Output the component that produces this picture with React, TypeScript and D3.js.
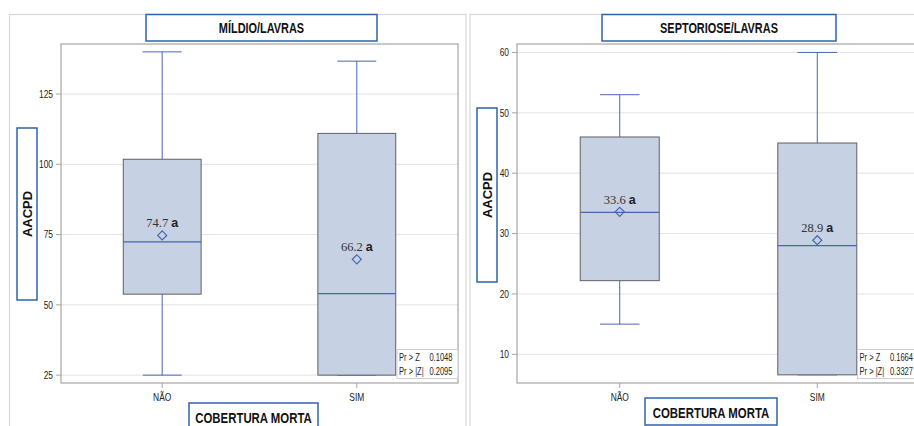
import React from "react";
import * as d3 from "d3";

const categories = ["NÃO", "SIM"];

const mildioMin = [25, 25];
const mildioQ1 = [53.8, 25];
const mildioMedian = [72.4, 54];
const mildioQ3 = [101.8, 111];
const mildioMax = [140, 136.7];
const mildioMean = [74.7, 66.2];
const mildioTicks = [25, 50, 75, 100, 125];
const mildioStats = ["0.1048", "0.2095"];

const septMin = [15, 6.6];
const septQ1 = [22.2, 6.6];
const septMedian = [33.5, 28];
const septQ3 = [46, 45];
const septMax = [53, 60];
const septMean = [33.6, 28.9];
const septTicks = [10, 20, 30, 40, 50, 60];
const septStats = ["0.1664", "0.3327"];

const statLabels = ["Pr > Z", "Pr > |Z|"];
const letters = ["a", "a"];

const SANS = "'Liberation Sans', Arial, sans-serif";
const SERIF = "'Liberation Serif', 'Times New Roman', serif";

const BOX_FILL = "#c6d1e3";
const BOX_STROKE = "#5f6066";
const BLUE = "#4766b2";
const TITLE_BLUE = "#2f64aa";
const GRID = "#e3e3e3";
const FRAME = "#a6a6a6";
const OUTER = "#d6d6d6";

type NTextProps = {
  x: number;
  y: number;
  size: number;
  anchor?: "start" | "middle" | "end";
  bold?: boolean;
  squeeze?: number;
  fill?: string;
  children: React.ReactNode;
};

function NText({ x, y, size, anchor = "start", bold = false, squeeze = 0.8, fill = "#222", children }: NTextProps) {
  return (
    <text
      transform={`translate(${x},${y}) scale(${squeeze},1)`}
      dy="0.35em"
      textAnchor={anchor}
      fontFamily={SANS}
      fontWeight={bold ? "bold" : "normal"}
      fontSize={size}
      fill={fill}
    >
      {children}
    </text>
  );
}

type PanelProps = {
  title: string;
  mins: number[];
  q1s: number[];
  medians: number[];
  q3s: number[];
  maxs: number[];
  means: number[];
  ticks: number[];
  stats: string[];
  domain: [number, number];
  plot: { x0: number; x1: number; y0: number; y1: number };
  outer: { x0: number; x1: number };
  titleBox: { x0: number; x1: number };
  yTitleBox: { x0: number; x1: number; y0: number; y1: number };
  xTitleBox: { x0: number; x1: number; y0: number; y1: number };
  inset: { x0: number; w: number };
};

function Panel(p: PanelProps) {
  const { plot } = p;
  const y = d3.scaleLinear().domain(p.domain).range([plot.y1, plot.y0]);
  const x = d3.scalePoint<string>().domain(categories).range([plot.x0, plot.x1]).padding(0.52);
  const step = x.step();
  const boxW = step * 0.4;
  const capW = boxW / 2;
  const clipId = "clip" + p.title.replace(/[^A-Z]/g, "");
  return (
    <g>
      <defs>
        <clipPath id={clipId}>
          <rect x={plot.x0} y={plot.y0} width={plot.x1 - plot.x0} height={plot.y1 - plot.y0} />
        </clipPath>
      </defs>
      <rect x={p.outer.x0} y={14.5} width={p.outer.x1 - p.outer.x0} height={430} fill="none" stroke={OUTER} strokeWidth={1.2} />
      <rect x={plot.x0} y={plot.y0} width={plot.x1 - plot.x0} height={plot.y1 - plot.y0} fill="#fff" stroke="none" />
      <g clipPath={`url(#${clipId})`}>
        {p.ticks.map((t) => (
          <line key={t} x1={plot.x0} x2={plot.x1} y1={y(t)} y2={y(t)} stroke={GRID} strokeWidth={1} />
        ))}
      </g>
      {p.ticks.map((t) => (
        <g key={"t" + t}>
          <line x1={plot.x0 - 5} x2={plot.x0} y1={y(t)} y2={y(t)} stroke={FRAME} />
          <NText x={plot.x0 - 8} y={y(t)} size={10.5} anchor="end" fill="#222">
            {t}
          </NText>
        </g>
      ))}
      {categories.map((c, i) => {
        const cx = x(c)!;
        return (
          <g key={c}>
            <line x1={cx} x2={cx} y1={y(p.maxs[i])} y2={y(p.q3s[i])} stroke={BLUE} strokeWidth={1} />
            <line x1={cx} x2={cx} y1={y(p.q1s[i])} y2={y(p.mins[i])} stroke={BLUE} strokeWidth={1} />
            <line x1={cx - capW / 2} x2={cx + capW / 2} y1={y(p.maxs[i])} y2={y(p.maxs[i])} stroke={BLUE} strokeWidth={1} />
            <line x1={cx - capW / 2} x2={cx + capW / 2} y1={y(p.mins[i])} y2={y(p.mins[i])} stroke={BLUE} strokeWidth={1} />
            <rect
              x={cx - boxW / 2}
              y={y(p.q3s[i])}
              width={boxW}
              height={y(p.q1s[i]) - y(p.q3s[i])}
              fill={BOX_FILL}
              stroke={BOX_STROKE}
              strokeWidth={1}
            />
            <line x1={cx - boxW / 2} x2={cx + boxW / 2} y1={y(p.medians[i])} y2={y(p.medians[i])} stroke={BLUE} strokeWidth={1.2} />
            <path
              d={`M${cx},${y(p.means[i]) - 4.5} L${cx + 4.5},${y(p.means[i])} L${cx},${y(p.means[i]) + 4.5} L${cx - 4.5},${y(p.means[i])} Z`}
              fill="none"
              stroke={BLUE}
              strokeWidth={1.2}
            />
            <text x={cx} y={y(p.means[i]) - 8} textAnchor="middle" fill="#333">
              <tspan fontFamily={SERIF} fontSize={12.5}>{p.means[i].toFixed(1)}</tspan>
              <tspan fontFamily={SANS} fontWeight="bold" fontSize={12.5} dx={3} fill="#222">{letters[i]}</tspan>
            </text>
          </g>
        );
      })}
      <rect x={plot.x0} y={plot.y0} width={plot.x1 - plot.x0} height={plot.y1 - plot.y0} fill="none" stroke={FRAME} strokeWidth={1.2} />
      {categories.map((c) => (
        <g key={"x" + c}>
          <line x1={x(c)!} x2={x(c)!} y1={plot.y1} y2={plot.y1 + 5} stroke={FRAME} />
          <NText x={x(c)!} y={plot.y1 + 14} size={10.5} anchor="middle" fill="#222">
            {c}
          </NText>
        </g>
      ))}
      <g>
        <rect x={p.inset.x0} y={349.5} width={p.inset.w} height={29} fill="#fff" stroke="#cfcfcf" strokeWidth={1} />
        {statLabels.map((s, i) => (
          <g key={s}>
            <NText x={p.inset.x0 + 2} y={357.5 + i * 13.5} size={10.5} squeeze={0.72}>
              {s}
            </NText>
            <NText x={p.inset.x0 + 55.5} y={357.5 + i * 13.5} size={10.5} anchor="end" squeeze={0.72}>
              {p.stats[i]}
            </NText>
          </g>
        ))}
      </g>
      <rect x={p.titleBox.x0} y={14.5} width={p.titleBox.x1 - p.titleBox.x0} height={26.5} fill="#fff" stroke={TITLE_BLUE} strokeWidth={1.5} />
      <NText x={(p.titleBox.x0 + p.titleBox.x1) / 2} y={28} size={14} anchor="middle" bold squeeze={0.78} fill="#111">
        {p.title}
      </NText>
      <rect
        x={p.yTitleBox.x0}
        y={p.yTitleBox.y0}
        width={p.yTitleBox.x1 - p.yTitleBox.x0}
        height={p.yTitleBox.y1 - p.yTitleBox.y0}
        fill="#fff"
        stroke={TITLE_BLUE}
        strokeWidth={1.5}
      />
      <text
        transform={`translate(${(p.yTitleBox.x0 + p.yTitleBox.x1) / 2},${(p.yTitleBox.y0 + p.yTitleBox.y1) / 2}) rotate(-90)`}
        dy="0.35em"
        textAnchor="middle"
        fontFamily={SANS}
        fontWeight="bold"
        fontSize={13}
        fill="#111"
      >
        AACPD
      </text>
      <rect
        x={p.xTitleBox.x0}
        y={p.xTitleBox.y0}
        width={p.xTitleBox.x1 - p.xTitleBox.x0}
        height={p.xTitleBox.y1 - p.xTitleBox.y0}
        fill="#fff"
        stroke={TITLE_BLUE}
        strokeWidth={1.5}
      />
      <NText
        x={(p.xTitleBox.x0 + p.xTitleBox.x1) / 2}
        y={p.xTitleBox.y0 + 14.5}
        size={15}
        anchor="middle"
        bold
        squeeze={0.76}
        fill="#111"
      >
        COBERTURA MORTA
      </NText>
    </g>
  );
}

export default function App() {
  return (
    <svg width={914} height={426} style={{ position: "absolute", left: 0, top: 0, background: "#fff" }}>
      <rect x={0} y={0} width={914} height={426} fill="#fff" />
      <Panel
        title="MÍLDIO/LAVRAS"
        mins={mildioMin}
        q1s={mildioQ1}
        medians={mildioMedian}
        q3s={mildioQ3}
        maxs={mildioMax}
        means={mildioMean}
        ticks={mildioTicks}
        stats={mildioStats}
        domain={[22.2, 142.8]}
        plot={{ x0: 61, x1: 458, y0: 44, y1: 383 }}
        outer={{ x0: 9.5, x1: 466 }}
        titleBox={{ x0: 146, x1: 377 }}
        yTitleBox={{ x0: 17, x1: 37, y0: 128, y1: 300 }}
        xTitleBox={{ x0: 189, x1: 318, y0: 403, y1: 440 }}
        inset={{ x0: 397, w: 61 }}
      />
      <Panel
        title="SEPTORIOSE/LAVRAS"
        mins={septMin}
        q1s={septQ1}
        medians={septMedian}
        q3s={septQ3}
        maxs={septMax}
        means={septMean}
        ticks={septTicks}
        stats={septStats}
        domain={[5.25, 61.4]}
        plot={{ x0: 517, x1: 920, y0: 44, y1: 383 }}
        outer={{ x0: 470, x1: 1000 }}
        titleBox={{ x0: 602, x1: 836 }}
        yTitleBox={{ x0: 477, x1: 497, y0: 108, y1: 282 }}
        xTitleBox={{ x0: 645, x1: 777, y0: 398, y1: 425 }}
        inset={{ x0: 857.5, w: 61 }}
      />
    </svg>
  );
}
